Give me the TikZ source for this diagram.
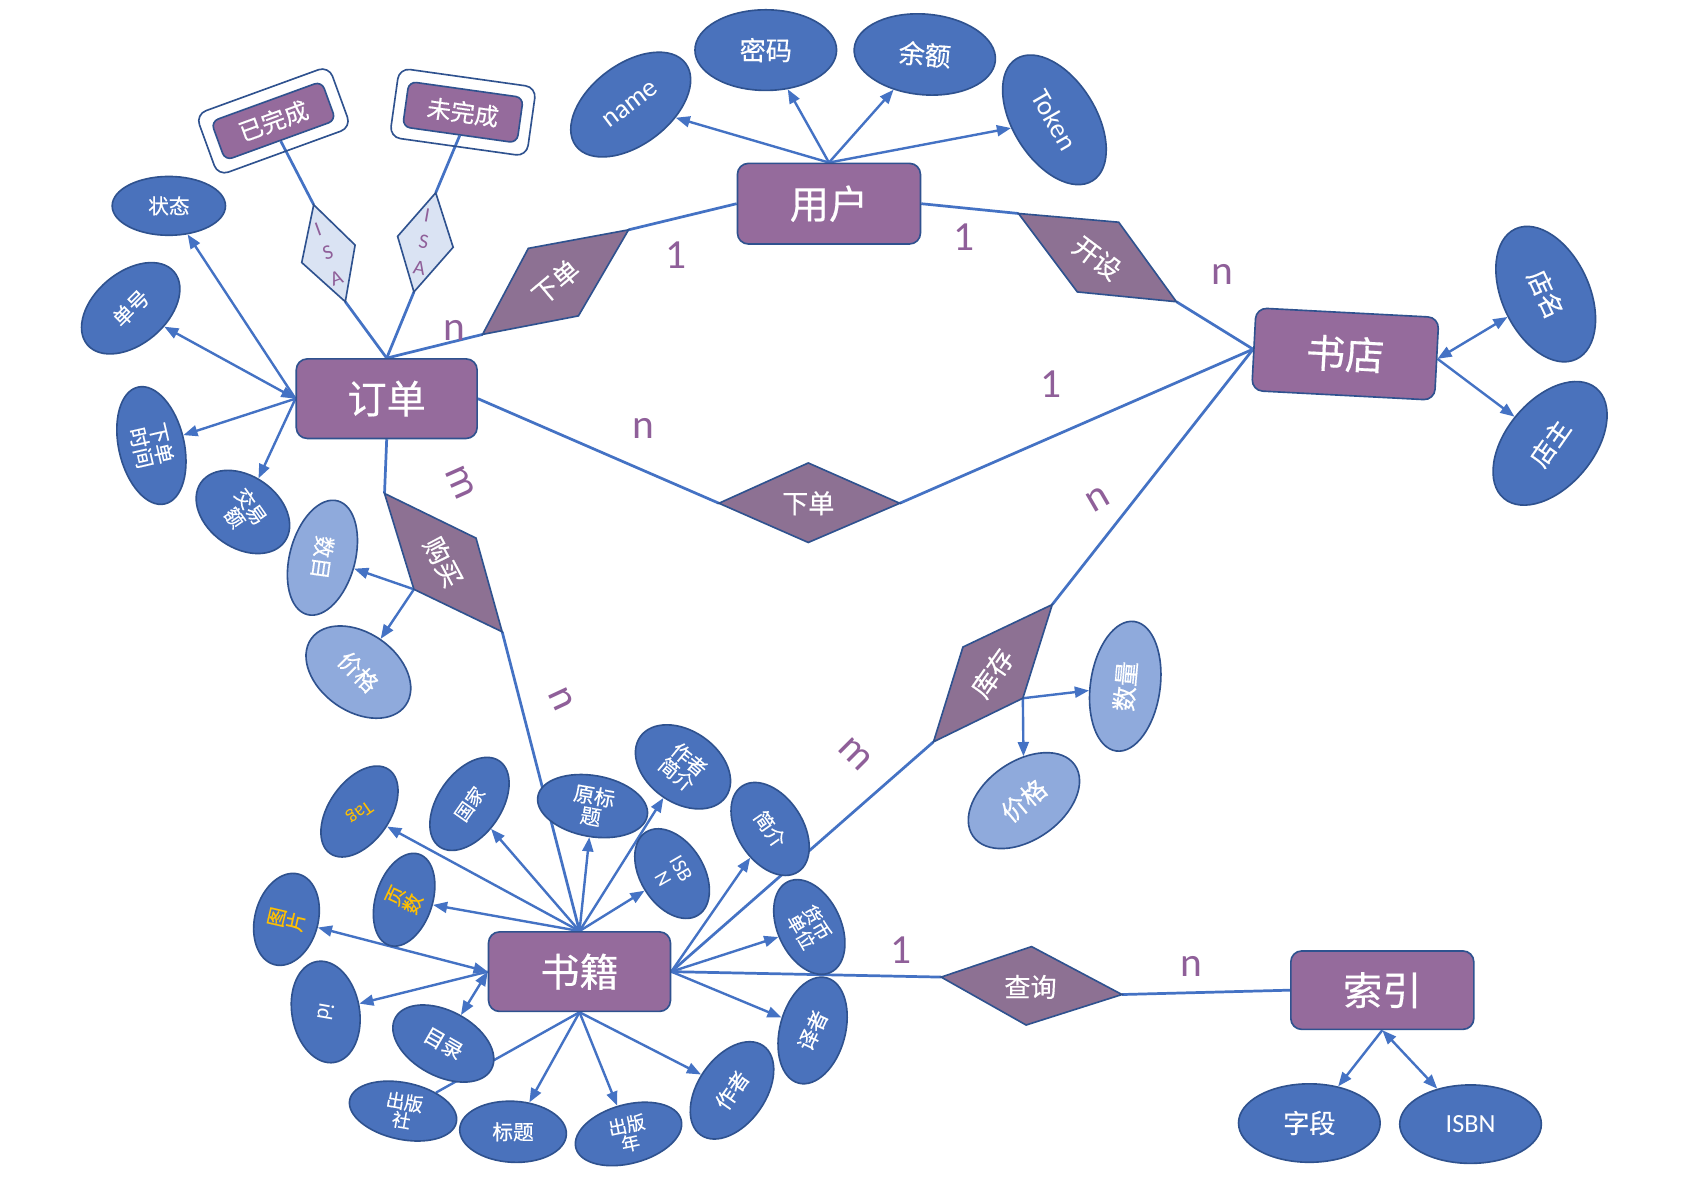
\documentclass[tikz,border=0pt]{standalone}
\usepackage{fontspec}
\setmainfont{Carlito}
\newfontfamily\cjk{Noto Sans CJK SC}[FakeBold=0.4]
\usetikzlibrary{shapes.geometric,arrows.meta,backgrounds}
\definecolor{entfill}{HTML}{956B9C}
\definecolor{relfill}{HTML}{8D7193}
\definecolor{attfill}{HTML}{4A72BC}
\definecolor{attlight}{HTML}{8FAADC}
\definecolor{bord}{HTML}{2F528F}
\definecolor{lnc}{HTML}{4472C4}
\definecolor{lab}{HTML}{8F5F99}
\definecolor{isafill}{HTML}{DAE3F3}
\definecolor{ylw}{HTML}{FFC000}
\tikzset{
  ent/.style={draw=bord, line width=1.5pt, fill=entfill, rounded corners=10pt, text=white,
    font=\cjk\fontsize{36}{40}\selectfont, inner sep=0pt},
  sub/.style={draw=bord, line width=1.5pt, fill=entfill, rounded corners=7pt, text=white,
    font=\cjk\fontsize{22}{24}\selectfont, inner sep=0pt},
  subout/.style={draw=bord, line width=1.5pt, rounded corners=10pt, inner sep=0pt},
  rel/.style={draw=bord, line width=1.5pt, fill=relfill, line join=miter},
  isa/.style={draw=bord, line width=1.5pt, fill=isafill},
  reltext/.style={text=white, font=\cjk\fontsize{24}{26}\selectfont, inner sep=0pt},
  isal/.style={text=lab, font=\fontsize{19}{19}\selectfont, inner sep=0pt},
  att/.style={ellipse, draw=bord, line width=1.5pt, inner sep=0pt},
  atttext/.style={text=white, inner sep=0pt, align=center},
  lab/.style={text=lab, font=\fontsize{38}{40}\selectfont, inner sep=0pt},
  conn/.style={draw=lnc, line width=2.5pt},
  arr/.style={draw=lnc, line width=2.2pt, -{Triangle[length=13pt,width=10pt]}},
  darr/.style={draw=lnc, line width=2.2pt, {Triangle[length=13pt,width=10pt]}-{Triangle[length=13pt,width=10pt]}},
  plain/.style={draw=lnc, line width=2.2pt}
}
% #1 name, #2 pos, #3 w, #4 h, #5 ellipse rot, #6 text rot, #7 fill, #8 size, #9 text
\newcommand\attr[9]{%
  \node[att, fill=#7, minimum width=#3pt, minimum height=#4pt, rotate=#5] (#1) at (#2) {};
  \node[atttext, rotate=#6, font=\cjk\fontsize{#8}{#8}\selectfont] (#1-t) at (#1.center) {#9};
}
\begin{document}
\begin{tikzpicture}[x=1pt,y=-1pt]
\useasboundingbox (0,0) rectangle (1568,1102);

% ---------- entities ----------
\node[ent, minimum width=168pt, minimum height=74pt] (user) at (761,187) {用户};
\node[ent, minimum width=166pt, minimum height=73pt] (order) at (355,366) {订单};
\node[ent, minimum width=168pt, minimum height=76pt, rotate=-3] (shop) at (1235,325) {书店};
\node[ent, minimum width=167pt, minimum height=73pt] (book) at (532,892) {书籍};
\node[ent, minimum width=168pt, minimum height=72pt] (idx) at (1269,909) {索引};

% ---------- subclasses ----------
\node[subout, minimum width=130pt, minimum height=60pt, rotate=20] (doneo) at (251,111) {};
\node[sub, minimum width=108pt, minimum height=38pt, rotate=20] (done) at (251,111) {已完成};
\node[subout, minimum width=127pt, minimum height=64pt, rotate=-8] (undoneo) at (425,103) {};
\node[sub, minimum width=106pt, minimum height=42pt, rotate=-8] (undone) at (425,103) {未完成};

% ISA diamonds
\coordinate (ia1) at (288,188); \coordinate (ib1) at (326,225);
\coordinate (ic1) at (317,277); \coordinate (id1) at (277,241);
\draw[isa] (ia1)--(ib1)--(ic1)--(id1)--cycle;
\node[isal, rotate=20] (isa1a) at (292,211) {I};
\node[isal, rotate=20] (isa1b) at (301,232) {S};
\node[isal, rotate=20] (isa1c) at (309,255) {A};
\coordinate (ia2) at (400,177); \coordinate (ib2) at (416,227);
\coordinate (ic2) at (380,268); \coordinate (id2) at (365,217);
\draw[isa] (ia2)--(ib2)--(ic2)--(id2)--cycle;
\node[isal, rotate=-10] (isa2a) at (392,198) {I};
\node[isal, rotate=-10] (isa2b) at (389,222) {S};
\node[isal, rotate=-10] (isa2c) at (385,246) {A};

% ---------- relationships ----------
\coordinate (xa) at (443,307); \coordinate (xb) at (485,228);
\coordinate (xc) at (577,211); \coordinate (xd) at (531,290);
\draw[rel] (xa)--(xb)--(xc)--(xd)--cycle;
\node[reltext, rotate=40] (xt) at (510,259) {下单};

\coordinate (ka) at (935,196); \coordinate (kb) at (1027,204);
\coordinate (kc) at (1080,277); \coordinate (kd) at (989,268);
\draw[rel] (ka)--(kb)--(kc)--(kd)--cycle;
\node[reltext, rotate=-37] (kt) at (1007,237) {开设};

\coordinate (ya) at (660,462); \coordinate (yb) at (742,425);
\coordinate (yc) at (826,462); \coordinate (yd) at (742,498);
\draw[rel] (ya)--(yb)--(yc)--(yd)--cycle;
\node[reltext] (yt) at (742,462) {下单};

\coordinate (ga) at (353,453); \coordinate (gb) at (437,494);
\coordinate (gc) at (461,580); \coordinate (gd) at (380,541);
\draw[rel] (ga)--(gb)--(gc)--(gd)--cycle;
\node[reltext, rotate=-62] (gt) at (407,516) {购买};

\coordinate (sa) at (966,555); \coordinate (sb) at (884,594);
\coordinate (sc) at (857,681); \coordinate (sd) at (939,641);
\draw[rel] (sa)--(sb)--(sc)--(sd)--cycle;
\node[reltext, rotate=55] (st) at (911,618) {库存};

\coordinate (qa) at (864,897); \coordinate (qb) at (947,869);
\coordinate (qc) at (1030,913); \coordinate (qd) at (942,941);
\draw[rel] (qa)--(qb)--(qc)--(qd)--cycle;
\node[reltext] (qt) at (946,906) {查询};

% ---------- attributes ----------
\attr{aname}{579,96}{126}{74}{37}{37}{attfill}{25}{\rmfamily name}
\attr{apwd}{703,46}{130}{74}{0}{0}{attfill}{24}{密码}
\attr{abal}{849,50}{130}{74}{-5}{-5}{attfill}{24}{余额}
\attr{atok}{968,110}{132}{76}{-58}{-60}{attfill}{25}{\rmfamily Token}

\attr{ast}{155,189}{104}{54}{0}{0}{attfill}{19}{状态}
\attr{ano}{120,283}{104}{66}{40}{45}{attfill}{19}{单号}
\attr{atime}{139,409}{110}{60}{103}{-77}{attfill}{19}{下单\\时间}
\attr{aamt}{223,470}{94}{66}{-35}{-55}{attfill}{18}{交易\\额}

\attr{acnt}{296,512}{108}{60}{75}{-98}{attlight}{20}{数目}
\attr{apr1}{329,617}{106}{72}{-35}{-45}{attlight}{21}{价格}

\attr{asn}{1419,270}{132}{80}{-65}{-65}{attfill}{23}{店名}
\attr{aso}{1423,407}{132}{80}{50}{55}{attfill}{23}{店主}

\attr{aqty}{1033,630}{120}{64}{82}{85}{attlight}{23}{数量}
\attr{apr2}{940,735}{114}{72}{35}{40}{attlight}{23}{价格}

\attr{afld}{1202,1031}{130}{72}{0}{0}{attfill}{24}{字段}
\attr{aisbn}{1350,1032}{130}{72}{0}{0}{attfill}{24}{\rmfamily ISBN}

\attr{btag}{330,745}{94}{56}{55}{-145}{attfill}{18}{\rmfamily\color{ylw}Tag}
\attr{bnat}{431,738}{96}{58}{55}{55}{attfill}{17}{国家}
\attr{borig}{544,740}{102}{56}{-10}{-10}{attfill}{19}{原标\\题}
\attr{bauin}{627,704}{96}{66}{-35}{-40}{attfill}{18}{作者\\简介}
\attr{bintro}{707,761}{94}{60}{-57}{-55}{attfill}{18}{简介}
\attr{bisbn}{617,802}{90}{58}{-58}{-60}{attfill}{19}{\rmfamily ISB\\\rmfamily N}
\attr{bpage}{371,826}{88}{52}{72}{65}{attfill}{18}{{\color{ylw}页}\\{\color{ylw}数}}
\attr{bpic}{263,844}{86}{58}{75}{77}{attfill}{18}{{\color{ylw}图}\\{\color{ylw}片}}
\attr{bid}{299,929}{94}{62}{100}{-100}{attfill}{20}{\rmfamily id}
\attr{btoc}{407,958}{100}{60}{-28}{-30}{attfill}{19}{目录}
\attr{bpub}{370,1020}{100}{52}{-12}{-10}{attfill}{17}{出版\\社}
\attr{btitle}{471,1039}{98}{56}{-3}{0}{attfill}{19}{标题}
\attr{byear}{577,1041}{100}{54}{15}{12}{attfill}{17}{出版\\年}
\attr{bauth}{672,1001}{100}{62}{55}{55}{attfill}{19}{作者}
\attr{bcur}{743,851}{92}{58}{-65}{-60}{attfill}{17}{货币\\单位}
\attr{btrans}{746,946}{100}{60}{75}{65}{attfill}{19}{译者}

% ---------- cardinality labels ----------
\node[lab] (l1) at (621,234) {1};
\node[lab] (l2) at (417,303) {n};
\node[lab] (l3) at (885,218) {1};
\node[lab] (l4) at (1122,252) {n};
\node[lab] (l5) at (591,393) {n};
\node[lab] (l6) at (965,353) {1};
\node[lab, rotate=-66] (l7) at (423,443) {m};
\node[lab, rotate=-65] (l8) at (515,642) {n};
\node[lab, rotate=30] (l9) at (1008,458) {n};
\node[lab, rotate=-45] (l10) at (785,692) {m};
\node[lab] (l11) at (827,872) {1};
\node[lab] (l12) at (1094,887) {n};

% ---------- connectors ----------
\begin{pgfonlayer}{background}
\fill[white] (0,0) rectangle (1568,1102);
% relationships
\draw[conn] (user.west) -- (xc);
\draw[conn] (xa) -- (order.north);
\draw[conn] (user.east) -- (ka);
\draw[conn] (kc) -- (shop.west);
\draw[conn] (order.east) -- (ya);
\draw[conn] (yc) -- (shop.west);
\draw[conn] (order.south) -- (ga);
\draw[conn] (gc) -- (book.north);
\draw[conn] (shop.west) -- (sa);
\draw[conn] (sc) -- (book.east);
\draw[conn] (book.east) -- (qa);
\draw[conn] (qc) -- (idx.west);
% ISA
\draw[conn] (done.south) -- (ia1);
\draw[conn] (ic1) -- (order.north);
\draw[conn] (undone.south) -- (ia2);
\draw[conn] (ic2) -- (order.north);
% user attributes
\draw[arr] (user.north) -- (aname);
\draw[arr] (user.north) -- (apwd);
\draw[arr] (user.north) -- (abal);
\draw[arr] (user.north) -- (atok);
% order attributes
\draw[arr] (order.west) -- (ast);
\draw[darr] (order.west) -- (ano);
\draw[arr] (order.west) -- (atime);
\draw[arr] (order.west) -- (aamt);
% purchase attributes
\draw[arr] (gd) -- (acnt);
\draw[arr] (gd) -- (apr1);
% shop attributes
\draw[darr] (shop.east) -- (asn);
\draw[arr] (shop.east) -- (aso);
% stock attributes
\draw[arr] (sd) -- (aqty);
\draw[arr] (sd) -- (apr2);
% index attributes
\draw[arr] (idx.south) -- (afld);
\draw[darr] (idx.south) -- (aisbn);
% book attributes
\draw[arr] (book.north) -- (btag);
\draw[arr] (book.north) -- (bnat);
\draw[arr] (book.north) -- (borig);
\draw[arr] (book.north) -- (bauin);
\draw[arr] (book.north) -- (bisbn);
\draw[arr] (book.north) -- (bpage);
\draw[darr] (book.west) -- (bpic);
\draw[arr] (book.west) -- (bid);
\draw[darr] (book.west) -- (btoc);
\draw[arr] (book.east) -- (bintro);
\draw[arr] (book.east) -- (bcur);
\draw[arr] (book.east) -- (btrans);
\draw[plain] (book.south) -- (bpub);
\draw[arr] (book.south) -- (btitle);
\draw[arr] (book.south) -- (byear);
\draw[arr] (book.south) -- (bauth);
\end{pgfonlayer}
\end{tikzpicture}
\end{document}
